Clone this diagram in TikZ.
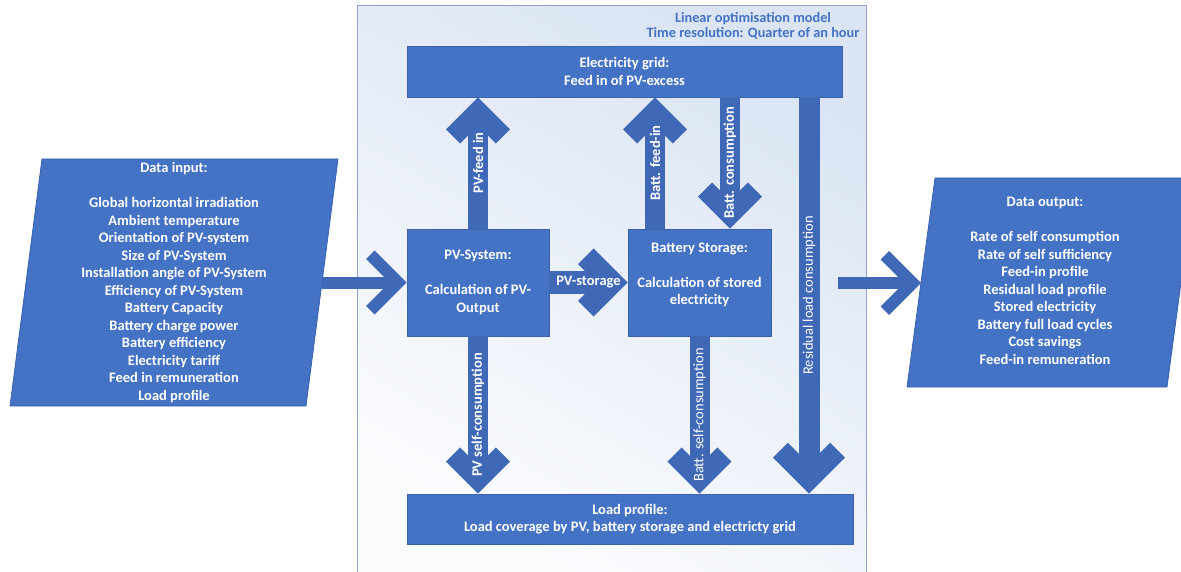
\documentclass[tikz,border=0pt]{standalone}
\usepackage{fontspec}
\setmainfont{Carlito}
\usetikzlibrary{arrows.meta}
\definecolor{boxblue}{HTML}{4472C4}
\definecolor{boxedge}{HTML}{3B63AD}
\definecolor{arrowblue}{HTML}{3F69B6}
\definecolor{titleblue}{HTML}{4472C4}
\definecolor{paneltop}{HTML}{DAE4F3}
\definecolor{panelbot}{HTML}{FBFCFE}
\definecolor{paneledge}{HTML}{8FA2CC}
\newcommand\myfs{\fontsize{14.5}{17.5}\selectfont}
\newcommand\mytitlefs{\fontsize{14.3}{15.5}\selectfont}
\makeatletter
\pgfdeclarearrow{
  name = Chevron,
  parameters = {\the\pgfarrowlength,\the\pgfarrowwidth},
  setup code = {
    \pgfarrowssettipend{0pt}
    \pgf@x=-\pgfarrowlength
    \advance\pgf@x by -0.70711\pgfarrowwidth
    \pgfarrowssetbackend{\pgf@x}
    \pgfarrowssetlineend{-1.2\pgfarrowwidth}
    \pgfarrowssavethe\pgfarrowlength
    \pgfarrowssavethe\pgfarrowwidth
  },
  drawing code = {
    \pgfpathmoveto{\pgfqpoint{0pt}{0pt}}
    \pgfpathlineto{\pgfpoint{-\pgfarrowlength}{\pgfarrowlength}}
    \pgfpathlineto{\pgfpoint{-\pgfarrowlength-0.70711*\pgfarrowwidth}{\pgfarrowlength-0.70711*\pgfarrowwidth}}
    \pgfpathlineto{\pgfpoint{-1.41421*\pgfarrowwidth}{0pt}}
    \pgfpathlineto{\pgfpoint{-\pgfarrowlength-0.70711*\pgfarrowwidth}{-\pgfarrowlength+0.70711*\pgfarrowwidth}}
    \pgfpathlineto{\pgfpoint{-\pgfarrowlength}{-\pgfarrowlength}}
    \pgfpathclose
    \pgfusepathqfill
  },
  defaults = {length = 32pt, width = 20pt}
}
\makeatother
\tikzset{
  box/.style={draw=boxedge, line width=0.8pt, fill=boxblue, text=white,
    font=\bfseries\myfs, align=center, inner sep=0pt},
  para/.style={draw=boxedge, line width=0.8pt, fill=boxblue},
  txt/.style={text=white, font=\bfseries\myfs, align=center, inner sep=0pt},
  flow/.style={draw=arrowblue, line width=20pt, -{Chevron[length=32pt,width=20pt]}},
  bigflow/.style={draw=arrowblue, line width=21pt, -{Chevron[length=36pt,width=21pt]}},
  midflow/.style={draw=arrowblue, line width=22pt, -{Chevron[length=34pt,width=22pt]}},
  thinflow/.style={draw=arrowblue, line width=12pt, -{Chevron[length=32pt,width=12pt]}},
  lbl/.style={text=white, font=\bfseries\myfs, inner sep=0pt, rotate=90},
  lblr/.style={text=white, font=\myfs, inner sep=0pt, rotate=90},
  lblh/.style={text=white, font=\bfseries\myfs, inner sep=0pt},
  title/.style={text=titleblue, font=\bfseries\mytitlefs, align=center, inner sep=0pt}
}
\begin{document}
\begin{tikzpicture}[x=1pt,y=-1pt]
\useasboundingbox (0,0) rectangle (1181,572);
% optimisation panel
\shade[top color=paneltop, bottom color=panelbot, shading angle=-30]
  (357.5,5.5) rectangle (866.5,572);
\draw[paneledge, line width=0.8pt] (357.5,572) -- (357.5,5.5) -- (866.5,5.5) -- (866.5,572);
\node[title] (title) at (753,26) {Linear optimisation model\\Time resolution: Quarter of an hour};

% data input / output parallelograms
\path[para] (42,159) -- (338,159) -- (306,406) -- (10,406) -- cycle;
\node[txt] (datain) at (174,282.5) {Data input:\\\mbox{}\\Global horizontal irradiation\\Ambient temperature\\Orientation of PV-system\\Size of PV-System\\Installation angle of PV-System\\Efficiency of PV-System\\Battery Capacity\\Battery charge power\\Battery efficiency\\Electricity tariff\\Feed in remuneration\\Load profile};
\path[para] (935,178) -- (1195,178) -- (1167,387) -- (907,387) -- cycle;
\node[txt] (dataout) at (1045,281) {Data output:\\\mbox{}\\Rate of self consumption\\Rate of self sufficiency\\Feed-in profile\\Residual load profile\\Stored electricity\\Battery full load cycles\\Cost savings\\Feed-in remuneration};

% model boxes
\node[box, minimum width=435pt, minimum height=51pt] (grid) at (624.5,71.5) {Electricity grid:\\Feed in of PV-excess};
\node[box, minimum width=142pt, minimum height=107pt] (pv) at (478,282.5) {PV-System:\\\mbox{}\\Calculation of PV-\\Output};
\node[box, minimum width=143pt, minimum height=107pt] (bat) at (699.5,282.5) {Battery Storage:\\\mbox{}\\Calculation of stored\\electricity\\\mbox{}};
\node[box, minimum width=446pt, minimum height=50pt] (load) at (630,519) {Load profile:\\Load coverage by PV, battery storage and electricty grid};

% helper coordinates
\coordinate (inA) at (322,282.5);
\coordinate (outA) at (838,283);
\coordinate (outB) at (921,283);
\coordinate (bfin) at ([xshift=-44.5pt]bat.north);
\coordinate (bcon) at ([xshift=30.5pt]bat.north);
\coordinate (resT) at ([xshift=184.5pt]grid.south);

% flows
\draw[thinflow] (inA) -- (pv.west);
\draw[thinflow] (outA) -- (outB);
\draw[midflow] (pv.east) -- node[lblh] {PV-storage} (bat.west);
\draw[flow] (pv.north) -- node[lbl] {PV-feed in} (pv.north |- grid.south);
\draw[flow] (bfin) -- node[lbl] {Batt. feed-in} (bfin |- grid.south);
\draw[flow] (bcon |- grid.south) -- node[lbl] {Batt. consumption} (bcon);
\draw[bigflow] (resT) -- node[lblr] {Residual load consumption} (resT |- load.north);
\draw[flow] (pv.south) -- node[lbl] {PV self-consumption} (pv.south |- load.north);
\draw[flow] (bat.south) -- node[lblr] {Batt. self-consumption} (bat.south |- load.north);
\end{tikzpicture}
\end{document}
